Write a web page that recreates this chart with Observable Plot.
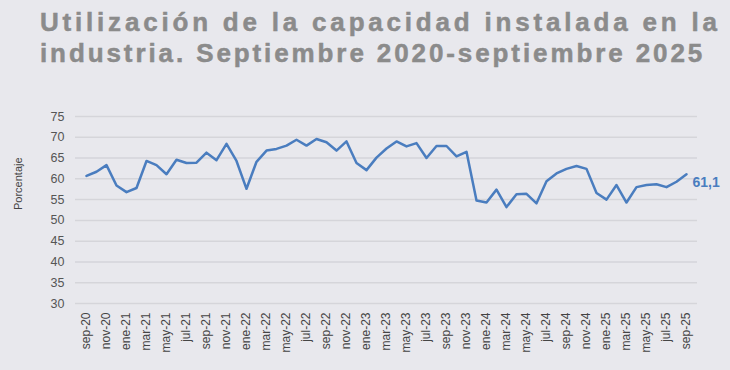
<!DOCTYPE html>
<html>
<head>
<meta charset="utf-8">
<script src="https://cdn.jsdelivr.net/npm/d3@7"></script>
<script src="https://cdn.jsdelivr.net/npm/@observablehq/plot@0.6"></script>
<style>
  html, body { margin: 0; padding: 0; background: #e8e8ed; }
  body { width: 730px; height: 370px; overflow: hidden; font-family: "Liberation Sans", Arial, sans-serif; }
  #title { height: 70px; box-sizing: border-box; padding: 7px 0 0 40px; color: #8b8b8b; font-weight: bold; font-size: 26px; line-height: 31px; white-space: nowrap; -webkit-text-stroke: 0.5px #8b8b8b; }
  #title .l1 { letter-spacing: 3.8px; }
  #title .l2 { letter-spacing: 2.9px; }
  #chart svg { display: block; }
</style>
</head>
<body>
<div id="title"><div class="l1">Utilización de la capacidad instalada en la</div><div class="l2">industria. Septiembre 2020-septiembre 2025</div></div>
<div id="chart"></div>
<script>
const months = [
  "sep-20","oct-20","nov-20","dic-20",
  "ene-21","feb-21","mar-21","abr-21","may-21","jun-21","jul-21","ago-21","sep-21","oct-21","nov-21","dic-21",
  "ene-22","feb-22","mar-22","abr-22","may-22","jun-22","jul-22","ago-22","sep-22","oct-22","nov-22","dic-22",
  "ene-23","feb-23","mar-23","abr-23","may-23","jun-23","jul-23","ago-23","sep-23","oct-23","nov-23","dic-23",
  "ene-24","feb-24","mar-24","abr-24","may-24","jun-24","jul-24","ago-24","sep-24","oct-24","nov-24","dic-24",
  "ene-25","feb-25","mar-25","abr-25","may-25","jun-25","jul-25","ago-25","sep-25"
];
const values = [
  60.7, 61.7, 63.3, 58.4,
  56.8, 57.8, 64.3, 63.3, 61.1, 64.6, 63.8, 63.9, 66.3, 64.5, 68.4, 64.3,
  57.6, 64.1, 66.8, 67.2, 68.0, 69.4, 68.0, 69.6, 68.8, 66.8, 69.0, 63.8,
  62.1, 65.1, 67.3, 69.0, 67.8, 68.6, 65.0, 67.9, 67.9, 65.4, 66.5, 54.8,
  54.3, 57.4, 53.2, 56.3, 56.4, 54.1, 59.4, 61.3, 62.4, 63.1, 62.4, 56.6,
  55.0, 58.5, 54.3, 58.0, 58.5, 58.7, 58.0, 59.3, 61.1
];
const yTicks = [30, 35, 40, 45, 50, 55, 60, 65, 70, 75];
const xTicks = months.filter((d, i) => i % 2 === 0);
const lastLabel = "61,1";

const data = months.map((m, i) => ({month: m, value: values[i]}));
const blue = "#4a7dbf";

const chart = Plot.plot({
  width: 730,
  height: 300,
  marginLeft: 75,
  marginRight: 33,
  marginTop: 46,
  marginBottom: 67,
  style: {background: "transparent", fontFamily: "Liberation Sans, Arial, sans-serif"},
  x: {type: "point", domain: months, padding: 0.5},
  y: {domain: [30, 75]},
  marks: [
    Plot.gridY(yTicks, {stroke: "#d5d5da", strokeOpacity: 1, strokeWidth: 1.5}),
    Plot.axisY(yTicks, {tickSize: 0, tickPadding: 11, fontSize: 12.5, fill: "#555", label: null}),
    Plot.axisX(xTicks, {tickSize: 0, tickPadding: 9, tickRotate: -90, fontSize: 12, fill: "#444", label: null}),
    Plot.text(["Porcentaje"], {frameAnchor: "left", dx: -57, rotate: -90, fontSize: 11, fill: "#444", text: d => d}),
    Plot.line(data, {x: "month", y: "value", stroke: blue, strokeWidth: 2.5, strokeLinejoin: "round"}),
    Plot.text([data[data.length - 1]], {x: "month", y: "value", text: () => lastLabel, dx: 6, dy: 8, textAnchor: "start", fill: blue, fontSize: 14, fontWeight: "bold"})
  ]
});
document.getElementById("chart").appendChild(chart);
</script>
</body>
</html>
